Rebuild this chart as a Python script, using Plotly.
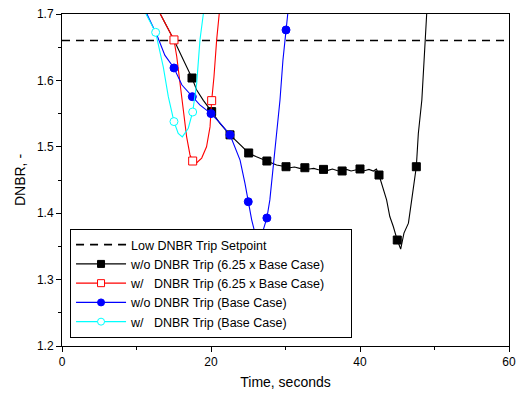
import plotly.graph_objects as go

# Low DNBR trip setpoint
setpoint_t = [0, 60]
setpoint_v = [1.66, 1.66]

# w/o DNBR Trip (6.25 x Base Case) - black
blk_t = [13.15, 14.5, 15.03, 16.28, 17.45, 18.08, 18.97, 20.09, 21.2, 22.55, 23.45, 25.06, 26.1, 27.5,
         28.8, 30.07, 30.6, 31.2, 31.9, 32.6, 33.2, 33.8, 34.4, 35.1, 35.7, 36.3, 37.0, 37.6, 38.2,
         38.8, 39.4, 40.0, 40.6, 41.2, 41.8, 42.2, 42.55, 42.9, 43.57, 44.0, 44.47, 45.0, 45.46,
         45.9, 46.5, 46.94, 47.56, 47.83, 48.3, 48.6, 48.95]
blk_v = [1.701, 1.673, 1.661, 1.631, 1.6036, 1.5855, 1.570, 1.553, 1.5354, 1.518, 1.5077, 1.4907,
         1.485, 1.4786, 1.4726, 1.470, 1.4685, 1.4695, 1.4675, 1.4685, 1.4665, 1.4675, 1.4655, 1.466,
         1.4645, 1.4665, 1.4640, 1.4636, 1.4660, 1.4635, 1.4655, 1.4666, 1.4640, 1.4660, 1.4635,
         1.4665, 1.4575, 1.445, 1.420, 1.395, 1.380, 1.3596, 1.346, 1.370, 1.385, 1.420, 1.470,
         1.520, 1.5705, 1.63, 1.70]
blk_mt = [17.45, 20.09, 22.55, 25.06, 27.5, 30.07, 32.6, 35.1, 37.6, 40.0, 42.55, 45.0, 47.56]
blk_mv = [1.6036, 1.553, 1.518, 1.4907, 1.4786, 1.470, 1.4685, 1.466, 1.4636, 1.4666, 1.4575, 1.3596, 1.470]

# w/ DNBR Trip (6.25 x Base Case) - red
red_t = [13.15, 14.5, 15.03, 15.4, 15.84, 16.28, 16.73, 17.18, 17.54, 18.08, 18.75, 19.4, 19.87,
         20.09, 20.4, 20.76, 21.1]
red_v = [1.701, 1.673, 1.661, 1.636, 1.596, 1.555, 1.515, 1.4877, 1.4786, 1.476, 1.483, 1.50, 1.530,
         1.5695, 1.6056, 1.661, 1.70]
red_mt = [15.03, 17.54, 20.09]
red_mv = [1.661, 1.4786, 1.5695]

# w/o DNBR Trip (Base Case) - blue
blu_t = [11.4, 12.75, 13.8, 15.03, 16.1, 17.49, 18.5, 20.0, 21.2, 22.55, 23.9, 24.56, 25.0, 25.46,
         25.9, 26.35, 26.8, 27.25, 27.5, 27.9, 28.36, 28.8, 29.26, 29.66, 30.07, 30.3]
blu_v = [1.70, 1.668, 1.638, 1.6187, 1.593, 1.5755, 1.563, 1.550, 1.536, 1.518, 1.48, 1.445, 1.4173,
         1.39, 1.370, 1.363, 1.367, 1.385, 1.3928, 1.42, 1.47, 1.52, 1.5705, 1.631, 1.676, 1.70]
blu_mt = [15.03, 17.49, 20.0, 22.55, 25.0, 27.5, 30.07]
blu_mv = [1.6187, 1.5755, 1.550, 1.518, 1.4173, 1.3928, 1.676]

# w/ DNBR Trip (Base Case) - cyan
cyn_t = [11.27, 12.57, 13.6, 14.27, 15.03, 15.6, 16.15, 16.95, 17.54, 18.08, 18.52, 18.97]
cyn_v = [1.70, 1.6724, 1.62, 1.5755, 1.538, 1.520, 1.515, 1.528, 1.5524, 1.5956, 1.661, 1.70]
cyn_mt = [12.57, 15.03, 17.54]
cyn_mv = [1.6724, 1.538, 1.5524]

FONT = "Arial, Liberation Sans"

fig = go.Figure()

fig.add_trace(go.Scatter(x=setpoint_t, y=setpoint_v, mode="lines",
                         line=dict(color="black", width=1.6, dash="8px,6px"),
                         name="Low DNBR Trip Setpoint"))

series = [
    ("w/o DNBR Trip (6.25 x Base Case)\u00a0\u00a0\u00a0\u00a0\u00a0\u00a0", blk_t, blk_v, blk_mt, blk_mv, "black", True, "square"),
    ("w/   DNBR Trip (6.25 x Base Case)", red_t, red_v, red_mt, red_mv, "red", False, "square"),
    ("w/o DNBR Trip (Base Case)", blu_t, blu_v, blu_mt, blu_mv, "blue", True, "circle"),
    ("w/   DNBR Trip (Base Case)", cyn_t, cyn_v, cyn_mt, cyn_mv, "#00FFFF", False, "circle"),
]

for name, t, v, mt, mv, col, filled, sym in series:
    mk = dict(symbol=sym, size=8, color=col if filled else "white", line=dict(color=col, width=1))
    fig.add_trace(go.Scatter(x=t, y=v, mode="lines", line=dict(color=col, width=1.1),
                             showlegend=False, hoverinfo="skip"))
    fig.add_trace(go.Scatter(x=mt, y=mv, mode="markers", marker=mk, showlegend=False))
    fig.add_trace(go.Scatter(x=[None], y=[None], mode="lines+markers", name=name,
                             line=dict(color=col, width=1.1), marker=dict(mk, size=7)))

axis_common = dict(showline=True, linecolor="black", linewidth=1, mirror=True, automargin=False,
                   ticks="outside", ticklen=5, tickcolor="black", showgrid=False, zeroline=False,
                   tickfont=dict(family=FONT, size=12, color="black"))

fig.update_xaxes(range=[0, 60], tickvals=[0, 20, 40, 60], title=dict(text="Time, seconds", standoff=8,
                 font=dict(family=FONT, size=14, color="black")),
                 minor=dict(tickvals=[10, 30, 50], ticks="outside", ticklen=3, tickcolor="black"),
                 **axis_common)
fig.update_yaxes(range=[1.2, 1.7], tickvals=[1.2, 1.3, 1.4, 1.5, 1.6, 1.7],
                 ticktext=["1.2", "1.3", "1.4", "1.5", "1.6", "1.7"],
                 title=dict(text="DNBR, -", standoff=8,
                            font=dict(family=FONT, size=14, color="black")),
                 minor=dict(tickvals=[1.25, 1.35, 1.45, 1.55, 1.65], ticks="outside", ticklen=3,
                            tickcolor="black"),
                 **axis_common)

fig.update_layout(
    width=518, height=399,
    margin=dict(l=62, r=9, t=14, b=53),
    plot_bgcolor="white", paper_bgcolor="white",
    font=dict(family=FONT, size=11, color="black"),
    legend=dict(x=0.018, y=0.024, xanchor="left", yanchor="bottom",
                bordercolor="black", borderwidth=1, bgcolor="white",
                font=dict(family=FONT, size=12.5, color="black"),
                tracegroupgap=0, itemwidth=50),
)

fig.write_html("out.html")
